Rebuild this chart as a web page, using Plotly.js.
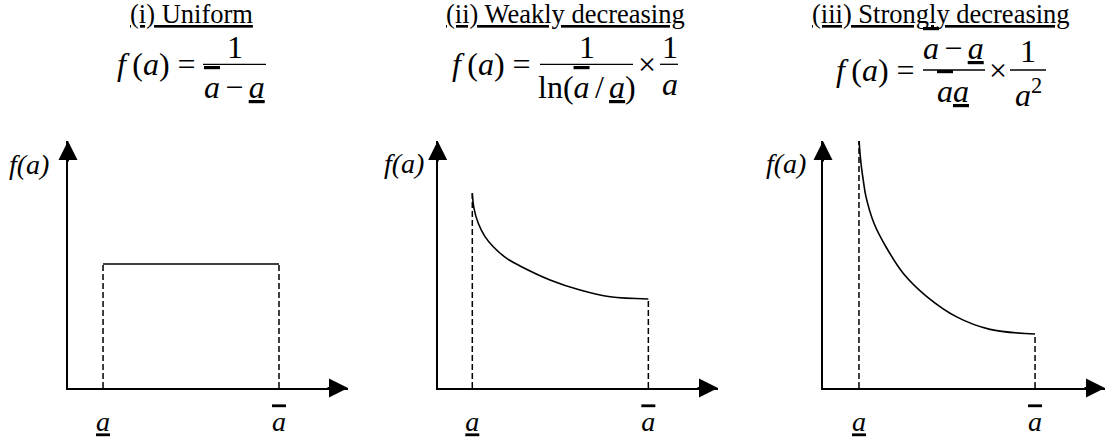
<!DOCTYPE html>
<html><head><meta charset="utf-8">
<script src="https://cdn.plot.ly/plotly-3.0.1.min.js"></script>
<style>html,body{margin:0;padding:0;background:#fff}</style>
</head><body>
<div id="chart" style="width:1112px;height:441px"></div>
<script>
// ---- data ----
const aLow = 1.0;    // lower bound of support (a underlined)
const aHigh = 2.15;  // upper bound of support (a overlined)

// (i) Uniform density level
const uniformX = [aLow, aHigh];
const uniformY = [0.849, 0.849];

// (ii) Weakly decreasing
const weakX = [1.000, 1.011, 1.039, 1.083, 1.137, 1.225, 1.312, 1.508, 1.704, 1.900, 2.150];
const weakY = [1.334, 1.231, 1.128, 1.037, 0.968, 0.888, 0.836, 0.740, 0.671, 0.625, 0.610];

// (iii) Strongly decreasing
const strongX = [1.000, 1.013, 1.028, 1.046, 1.098, 1.176, 1.290, 1.443, 1.638, 1.856, 2.150];
const strongY = [0.537, 0.487, 0.450, 0.414, 0.357, 0.306, 0.248, 0.198, 0.154, 0.127, 0.117];

const panelTitles = ['(i) Uniform', '(ii) Weakly decreasing', '(iii) Strongly decreasing'];
const yLabelText = 'f(a)';

// ---- helpers ----
const W = 1112, H = 441;
const px = v => v / W;
const py = v => 1 - v / H;
const FONT = 'Liberation Serif';
const it = s => '<i>' + s + '</i>';
const ov = s => '<span style="text-decoration:overline;text-decoration-thickness:1px">' + s + '</span>';
const un = s => '<u>' + s + '</u>';
const tickText = [it(un('a')), it(ov('a'))];
const SP = '\u2006';

const panels = [
  {xd: [68, 348], xr: [0.771, 2.601], yr: [0, 1.692]},
  {xd: [437.7, 718], xr: [0.774, 2.605], yr: [0, 1.692]},
  {xd: [823, 1105], xr: [0.765, 2.607], yr: [0, 0.535]}
];
const yDom = [py(388), py(141)];

const layout = {
  width: W, height: H,
  margin: {l: 0, r: 0, t: 0, b: 0},
  paper_bgcolor: '#fff', plot_bgcolor: '#fff',
  showlegend: false,
  font: {family: FONT, color: '#000'},
  annotations: [], shapes: []
};

panels.forEach((p, i) => {
  const n = i === 0 ? '' : String(i + 1);
  layout['xaxis' + n] = {
    domain: [px(p.xd[0]), px(p.xd[1])], range: p.xr,
    anchor: 'y' + n, showline: true, linewidth: 1.8, linecolor: '#000',
    showgrid: false, zeroline: false, ticks: '',
    tickmode: 'array', tickvals: [aLow, aHigh], ticktext: tickText,
    tickfont: {family: FONT, size: 28, color: '#000'},
    ticklabelstandoff: 8, fixedrange: true
  };
  layout['yaxis' + n] = {
    domain: yDom, range: p.yr, anchor: 'x' + n,
    showline: true, linewidth: 1.8, linecolor: '#000',
    showgrid: false, zeroline: false, ticks: '', showticklabels: false,
    fixedrange: true
  };
  // arrow heads on axes
  layout.annotations.push({
    xref: 'x' + n, yref: 'y' + n, x: p.xr[1], y: p.yr[0], ax: -22, ay: 0,
    showarrow: true, arrowhead: 2, arrowsize: 1.9, arrowwidth: 2, arrowcolor: '#000', text: ''
  });
  layout.annotations.push({
    xref: 'x' + n, yref: 'y' + n, x: p.xr[0], y: p.yr[1], ax: 0, ay: 22,
    showarrow: true, arrowhead: 2, arrowsize: 1.9, arrowwidth: 2, arrowcolor: '#000', text: ''
  });
});

// ---- traces ----
const solid = {color: '#000', width: 1.6};
const dashed = {color: '#000', width: 1.5, dash: '6px,3px'};
function tr(x, y, n, line) {
  return {type: 'scatter', mode: 'lines', x: x, y: y,
    xaxis: 'x' + n, yaxis: 'y' + n, line: line, hoverinfo: 'skip', cliponaxis: false};
}
const data = [
  tr([aLow, aLow], [0, uniformY[0]], '', dashed),
  tr([aHigh, aHigh], [0, uniformY[uniformY.length - 1]], '', dashed),
  tr(uniformX, uniformY, '', solid),
  tr([aLow, aLow], [0, weakY[0]], '2', dashed),
  tr([aHigh, aHigh], [0, weakY[weakY.length - 1]], '2', dashed),
  tr(weakX, weakY, '2', Object.assign({shape: 'spline', smoothing: 1}, solid)),
  tr([aLow, aLow], [0, strongY[0]], '3', dashed),
  tr([aHigh, aHigh], [0, strongY[strongY.length - 1]], '3', dashed),
  tr(strongX, strongY, '3', Object.assign({shape: 'spline', smoothing: 1}, solid))
];

// ---- text: titles, formulas, axis labels ----
function txt(t, cx, cy, size) {
  layout.annotations.push({xref: 'paper', yref: 'paper', x: px(cx), y: py(cy),
    xanchor: 'center', yanchor: 'middle', showarrow: false, text: t,
    font: {family: FONT, size: size, color: '#000'}});
}
function bar(x0, x1, y) {
  layout.shapes.push({type: 'line', xref: 'paper', yref: 'paper',
    x0: px(x0), x1: px(x1), y0: py(y), y1: py(y), line: {color: '#000', width: 1.3}});
}
const lhs = it('f') + '\u2009(' + it('a') + ') =';
const F = 32;

// titles
txt(un(panelTitles[0]), 191.5, 14, 26.5);
txt(un(panelTitles[1]), 565.5, 14, 26.5);
txt(un(panelTitles[2]), 941, 14, 26.5);

// (i)
txt(lhs, 156, 64, F);
txt('1', 235, 46.5, F);
bar(203, 266, 64.3);
txt(it(ov('a')) + SP + '\u2212' + SP + it(un('a')), 234, 87, F);

// (ii)
txt(lhs, 491, 64, F);
txt('1', 587, 46.5, F);
bar(540, 633, 64.3);
txt('ln(' + it(ov('a')) + SP + '/' + SP + it(un('a')) + ')', 587, 87, F);
txt('\u00d7', 647, 64, F);
txt('1', 670, 46.5, F);
bar(660, 678, 64.3);
txt(it('a'), 670, 84, F);

// (iii)
txt(lhs, 875, 70, F);
txt(it(ov('a')) + SP + '\u2212' + SP + it(un('a')), 953, 48.5, F);
bar(923, 985, 70);
txt(it(ov('a')) + it(un('a')), 953, 91, F);
txt('\u00d7', 998, 70, F);
txt('1', 1028, 51, F);
bar(1010, 1046, 70);
txt(it('a') + '<sup>2</sup>', 1028, 93, F);

// y-axis labels
txt(it(yLabelText), 28.5, 164, 28);
txt(it(yLabelText), 404, 163, 28);
txt(it(yLabelText), 786, 163, 28);

Plotly.newPlot('chart', data, layout, {staticPlot: true, displayModeBar: false});
</script>
</body></html>
